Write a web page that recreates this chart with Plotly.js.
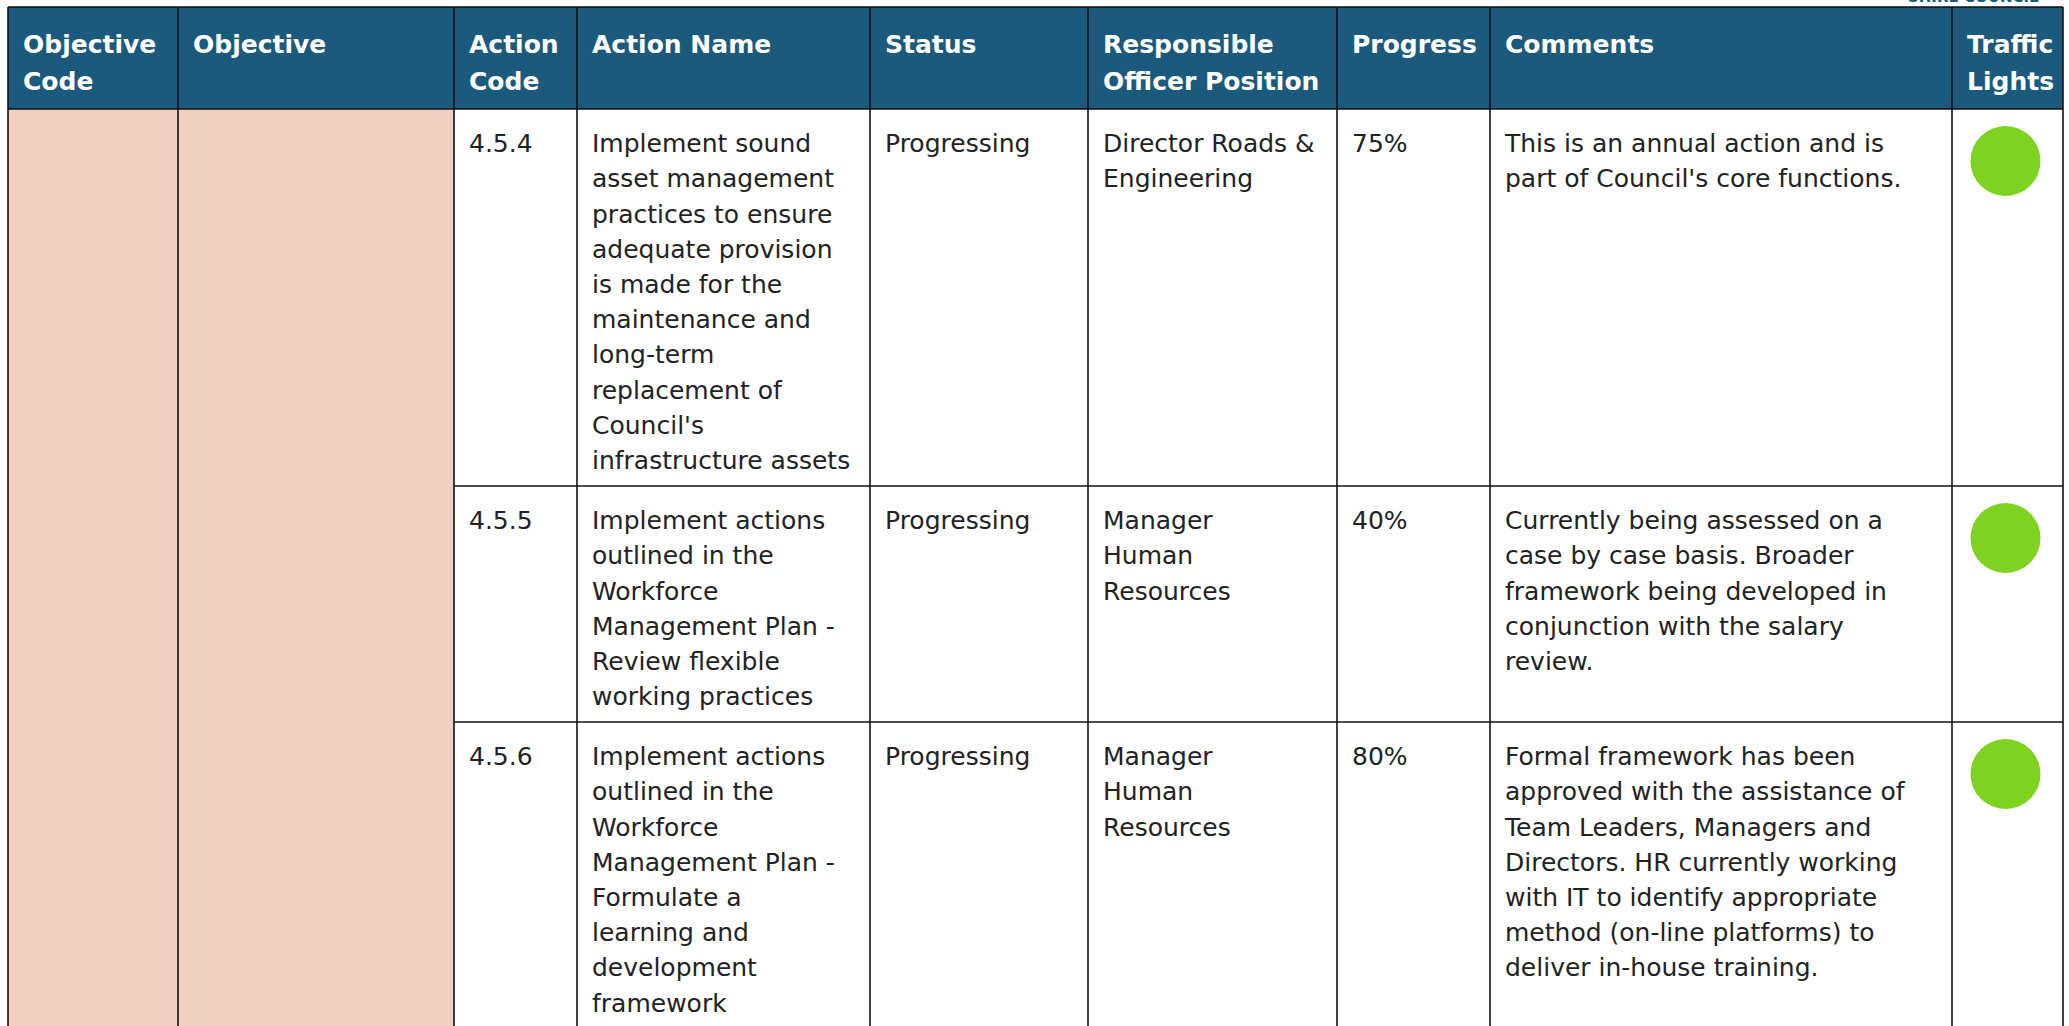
<!DOCTYPE html>
<html>
<head>
<meta charset="utf-8">
<script src="https://cdn.plot.ly/plotly-3.0.1.min.js"></script>
<style>
  html, body { margin: 0; padding: 0; background: #ffffff; }
  #chart { width: 2069px; height: 1026px; }
</style>
</head>
<body>
<div id="chart"></div>
<script>
// ---------------- DATA ----------------
const headers = [
  "Objective\nCode", "Objective", "Action\nCode", "Action Name", "Status",
  "Responsible\nOfficer Position", "Progress", "Comments", "Traffic\nLights"
];
const objectiveCodes = ["", "", ""];
const objectives = ["", "", ""];
const actionCodes = ["4.5.4", "4.5.5", "4.5.6"];
const actionNames = [
  "Implement sound\nasset management\npractices to ensure\nadequate provision\nis made for the\nmaintenance and\nlong-term\nreplacement of\nCouncil's\ninfrastructure assets",
  "Implement actions\noutlined in the\nWorkforce\nManagement Plan -\nReview flexible\nworking practices",
  "Implement actions\noutlined in the\nWorkforce\nManagement Plan -\nFormulate a\nlearning and\ndevelopment\nframework"
];
const statuses = ["Progressing", "Progressing", "Progressing"];
const officers = [
  "Director Roads &\nEngineering",
  "Manager\nHuman\nResources",
  "Manager\nHuman\nResources"
];
const progress = ["75%", "40%", "80%"];
const comments = [
  "This is an annual action and is\npart of Council's core functions.",
  "Currently being assessed on a\ncase by case basis. Broader\nframework being developed in\nconjunction with the salary\nreview.",
  "Formal framework has been\napproved with the assistance of\nTeam Leaders, Managers and\nDirectors. HR currently working\nwith IT to identify appropriate\nmethod (on-line platforms) to\ndeliver in-house training."
];
const trafficLights = ["green", "green", "green"];
const logoText = "SHIRE COUNCIL";

// ---------------- LAYOUT / STYLE ----------------
const W = 2069, H = 1026;
const colEdges = [8, 178, 454, 577, 870, 1088, 1337, 1490, 1952, 2063];
const rowEdges = [7, 109, 486, 722, 1040];   // header top, header bottom, row separators, beyond bottom
const mergedCols = 2;                       // first two columns are merged pink cells
const padX = 15;
const bodyFirst = 37, bodySpacing = 35.2;
const headFirst = 40, headSpacing = 37;
const lightOffset = 52;
const headerFill = "#1b5a7d";
const mergedFill = "#f1cfc1";
const lightColor = { green: "#7ed321", amber: "#f5a623", red: "#d0021b" };
const lineColor = "#111111";
const bodyFont = { family: "DejaVu Sans, sans-serif", size: 25, color: "#222222" };
const headFont = { family: "DejaVu Sans, sans-serif", size: 25, color: "#ffffff", weight: "bold" };

const columns = [objectiveCodes, objectives, actionCodes, actionNames, statuses, officers, progress, comments];
const lastX = colEdges[colEdges.length - 1];

// ---------------- SHAPES (fills + grid) ----------------
const shapes = [];
shapes.push({ type: "rect", xref: "x", yref: "y", layer: "below",
  x0: colEdges[0], x1: lastX, y0: rowEdges[0], y1: rowEdges[1],
  fillcolor: headerFill, line: { width: 0 } });
shapes.push({ type: "rect", xref: "x", yref: "y", layer: "below",
  x0: colEdges[0], x1: colEdges[mergedCols], y0: rowEdges[1], y1: rowEdges[rowEdges.length - 1],
  fillcolor: mergedFill, line: { width: 0 } });
// vertical lines
colEdges.forEach(function (cx) {
  shapes.push({ type: "line", xref: "x", yref: "y", layer: "below",
    x0: cx, x1: cx, y0: rowEdges[0], y1: rowEdges[rowEdges.length - 1],
    line: { color: lineColor, width: 1.6 } });
});
// horizontal lines
rowEdges.slice(0, rowEdges.length - 1).forEach(function (ry, i) {
  const x0 = (i <= 1) ? colEdges[0] : colEdges[mergedCols];
  shapes.push({ type: "line", xref: "x", yref: "y", layer: "below",
    x0: x0, x1: lastX, y0: ry, y1: ry,
    line: { color: lineColor, width: 1.6 } });
});

// ---------------- TEXT TRACES ----------------
const traces = [];
// header text
(function () {
  const xs = [], ys = [], ts = [];
  headers.forEach(function (h, c) {
    h.split("\n").forEach(function (line, i) {
      xs.push(colEdges[c] + padX);
      ys.push(rowEdges[0] + headFirst + i * headSpacing);
      ts.push(line);
    });
  });
  traces.push({ type: "scatter", mode: "text", x: xs, y: ys, text: ts,
    textposition: "middle right", textfont: headFont, hoverinfo: "skip",
    showlegend: false, cliponaxis: false });
})();
// body text
(function () {
  const xs = [], ys = [], ts = [];
  columns.forEach(function (col, c) {
    col.forEach(function (val, r) {
      if (!val) return;
      val.split("\n").forEach(function (line, i) {
        xs.push(colEdges[c] + padX);
        ys.push(rowEdges[r + 1] + bodyFirst + i * bodySpacing);
        ts.push(line);
      });
    });
  });
  traces.push({ type: "scatter", mode: "text", x: xs, y: ys, text: ts,
    textposition: "middle right", textfont: bodyFont, hoverinfo: "skip",
    showlegend: false, cliponaxis: false });
})();
// traffic lights
(function () {
  const c = colEdges.length - 2;
  const xs = [], ys = [], cs = [];
  trafficLights.forEach(function (l, r) {
    xs.push((colEdges[c] + colEdges[c + 1]) / 2 - 2);
    ys.push(rowEdges[r + 1] + lightOffset);
    cs.push(lightColor[l]);
  });
  traces.push({ type: "scatter", mode: "markers", x: xs, y: ys,
    marker: { size: 70, color: cs, line: { width: 0 } },
    hoverinfo: "skip", showlegend: false, cliponaxis: false });
})();

const layout = {
  width: W, height: H,
  margin: { l: 0, r: 0, t: 0, b: 0, pad: 0 },
  paper_bgcolor: "#ffffff", plot_bgcolor: "#ffffff",
  xaxis: { range: [0, W], visible: false, fixedrange: true },
  yaxis: { range: [H, 0], visible: false, fixedrange: true },
  showlegend: false,
  shapes: shapes,
  annotations: [{
    xref: "x", yref: "y", x: 1973, y: 8, xanchor: "center", yanchor: "bottom",
    text: logoText, showarrow: false,
    font: { family: "DejaVu Sans, sans-serif", size: 15, color: headerFill, weight: "bold" }
  }]
};

Plotly.newPlot("chart", traces, layout, { displayModeBar: false, staticPlot: true });
</script>
</body>
</html>
